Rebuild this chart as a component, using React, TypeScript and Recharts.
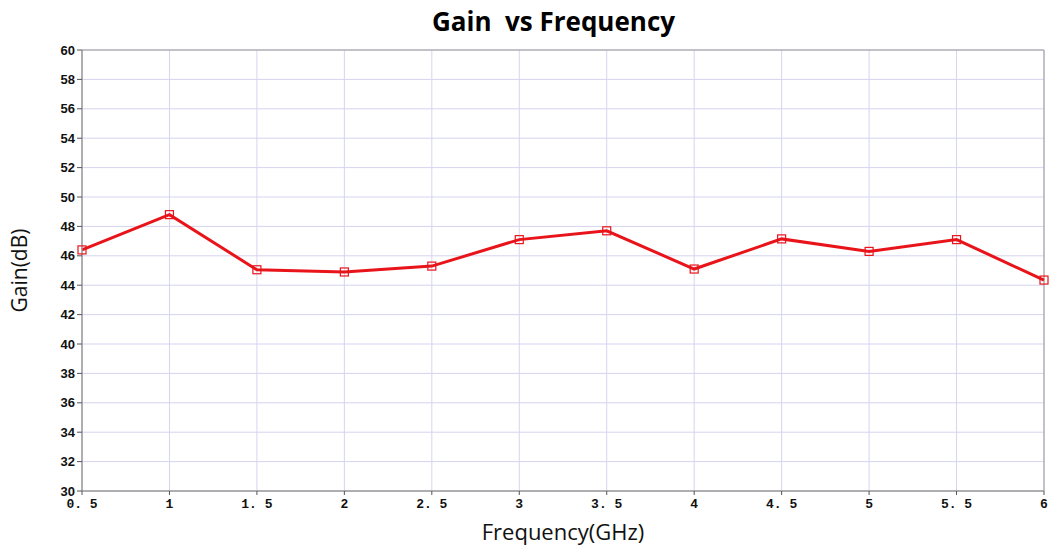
import { LineChart, Line, XAxis, YAxis, CartesianGrid, ReferenceArea } from 'recharts';

const frequencies = [0.5, 1, 1.5, 2, 2.5, 3, 3.5, 4, 4.5, 5, 5.5, 6];
const gain = [46.4, 48.8, 45.05, 44.9, 45.3, 47.1, 47.7, 45.1, 47.15, 46.3, 47.1, 44.35];
const xTicks = [0.5, 1, 1.5, 2, 2.5, 3, 3.5, 4, 4.5, 5, 5.5, 6];
const yTicks = [30, 32, 34, 36, 38, 40, 42, 44, 46, 48, 50, 52, 54, 56, 58, 60];

const data = frequencies.map((f, i) => ({ freq: f, gain: gain[i] }));

const SquareDot = (props: any) => {
  const { cx, cy } = props;
  if (cx == null || cy == null) return null;
  return <rect x={cx - 4} y={cy - 4} width={8} height={8} fill="none" stroke="#e8141a" strokeWidth={1.2} />;
};

const fmtX = (v: number) => (Number.isInteger(v) ? String(v) : String(v).replace('.', '. '));

export default function App() {
  return (
    <div style={{ position: 'absolute', left: 0, top: 0, width: 1049, height: 548, background: '#fff' }}>
      <div
        style={{
          position: 'absolute',
          top: 3,
          width: 1049,
          textAlign: 'center',
          fontFamily: '"Open Sans", sans-serif',
          fontWeight: 700,
          fontSize: 26,
          color: '#000',
          paddingLeft: 58,
          boxSizing: 'border-box',
        }}
      >
        Gain&nbsp; vs Frequency
      </div>
      <LineChart width={1049} height={548} data={data} margin={{ top: 50, right: 5, left: 0, bottom: 0 }}>
        <CartesianGrid stroke="#d6d4f0" strokeWidth={1} />
        <XAxis
          dataKey="freq"
          type="number"
          domain={[0.5, 6]}
          ticks={xTicks}
          tickFormatter={fmtX}
          height={57}
          stroke="#9a9a9a"
          tickLine={{ stroke: '#555' }}
          tickSize={4}
          tick={{ fill: '#111', fontSize: 13, fontWeight: 700, fontFamily: '"Liberation Mono", monospace', dy: 2 }}
          label={{ value: 'Frequency(GHz)', position: 'insideBottom', offset: 8, fill: '#111', fontSize: 22, fontFamily: '"Open Sans", sans-serif' }}
        />
        <YAxis
          type="number"
          domain={[30, 60]}
          ticks={yTicks}
          width={82}
          stroke="#9a9a9a"
          tickLine={{ stroke: '#555' }}
          tickSize={5}
          tick={{ fill: '#111', fontSize: 13, fontWeight: 700, fontFamily: '"Liberation Sans", sans-serif' }}
          label={{ value: 'Gain(dB)', angle: -90, position: 'insideLeft', offset: 20, fill: '#111', fontSize: 21, fontFamily: '"Open Sans", sans-serif', style: { textAnchor: 'middle' } }}
        />
        <ReferenceArea x1={0.5} x2={6} y1={30} y2={60} fill="none" stroke="#9a9a9a" strokeWidth={1} ifOverflow="visible" />
        <Line
          type="linear"
          dataKey="gain"
          stroke="#e8141a"
          strokeWidth={3}
          dot={<SquareDot />}
          activeDot={false}
          isAnimationActive={false}
        />
      </LineChart>
    </div>
  );
}
